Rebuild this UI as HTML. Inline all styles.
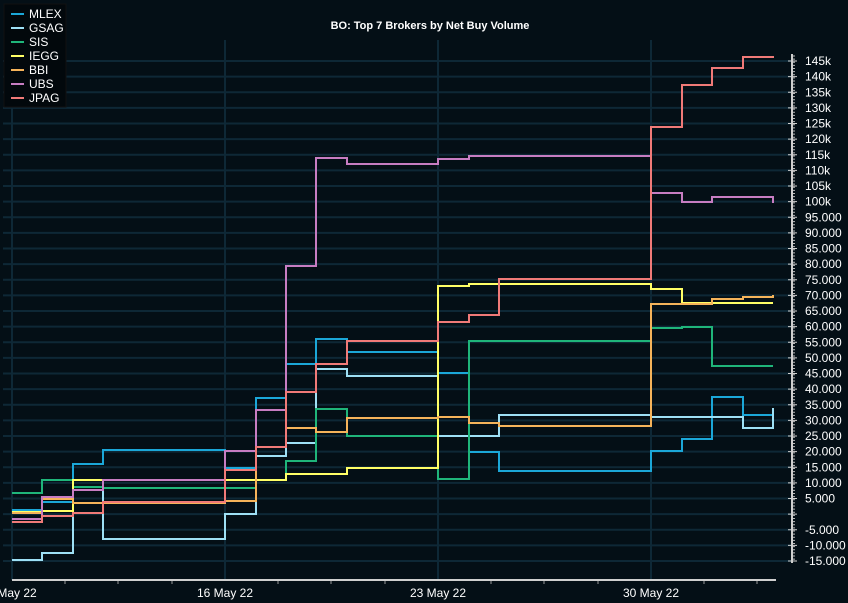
<!DOCTYPE html>
<html><head><meta charset="utf-8"><style>
html,body{margin:0;padding:0;background:#040f16;width:848px;height:603px;overflow:hidden}
svg{display:block;font-family:"Liberation Sans",sans-serif}
</style></head><body>
<svg id="c" width="848" height="603" xmlns="http://www.w3.org/2000/svg">
<rect width="848" height="603" fill="#040f16"/>
<g id="grid"></g>
<g id="series" fill="none" stroke-width="2"></g>
<text x="430" y="29" fill="#ffffff" font-size="11" font-weight="bold" text-anchor="middle">BO: Top 7 Brokers by Net Buy Volume</text>
<line x1="792" y1="54" x2="792" y2="563" stroke="#cfcfcf" stroke-width="2"/>
<g id="yl" fill="#ffffff" font-size="12"></g>
<line x1="12" y1="580" x2="776" y2="580" stroke="#cfcfcf" stroke-width="2"/>
<g fill="#ffffff" font-size="12" text-anchor="middle">
<text x="12" y="597">9 May 22</text>
<text x="225" y="597">16 May 22</text>
<text x="438" y="597">23 May 22</text>
<text x="651" y="597">30 May 22</text>
</g>
<g id="legend"></g>
</svg>
<script>
const NS="http://www.w3.org/2000/svg";
function el(t,a,p){const e=document.createElementNS(NS,t);for(const k in a)e.setAttribute(k,a[k]);p.appendChild(e);return e;}
const Y=v=>61+(145-v)*3.125;
const grid=document.getElementById('grid'),yl=document.getElementById('yl');
for(let v=-15;v<=145;v+=5){
  const y=Y(v);
  el('line',{x1:3,y1:y,x2:792,y2:y,stroke:'#0e2836','stroke-width':2},grid);
  el('line',{x1:788,y1:y,x2:797,y2:y,stroke:'#cfcfcf','stroke-width':1},grid);
  if(v!==0){const t=el('text',{x:805,y:y+4},yl);t.textContent=v>=100?v+'k':(v<0?'-':'')+Math.abs(v)+'.000';}
}
for(let y=56;y<562;y+=3.125) el('line',{x1:792,y1:y,x2:795,y2:y,stroke:'#bbbbbb','stroke-width':1},grid);
[12,225,438,651].forEach(x=>el('line',{x1:x,y1:40,x2:x,y2:580,stroke:'#0e2836','stroke-width':2},grid));
[65,118,172,278,331,385,491,544,598,704,757].forEach(x=>el('line',{x1:x,y1:580,x2:x,y2:584,stroke:'#999','stroke-width':1},grid));
const X=[12,42,73,103,225,256,286,316,347,438,469,499,651,682,712,743,773];
const S=[
 ['MLEX','#1ba7d8',[510,502,464,450,468,398,364,339,352,373,452,471,451,439,397,415],408],
 ['GSAG','#9ee0f5',[560,553,490,539,514,456,443,369,376,436,436,415,417,417,417,428],408],
 ['SIS','#1fb57a',[493,480,487,488,488,480,461,409,436,479,341,341,328,327,366,366],366],
 ['IEGG','#ffff66',[512,511,480,480,480,480,474,474,468,286,284,284,289,303,303,303],303],
 ['BBI','#f5b35a',[513,499,503,503,501,447,428,432,418,417,423,426,304,304,299,297],295],
 ['UBS','#c77dc2',[519,497,490,480,451,410,266,158,164,159,156,156,193,202,197,197],203],
 ['JPAG','#f07a78',[522,516,513,502,470,447,392,364,341,322,315,279,127,85,68,57],56]
];
const g=document.getElementById('series');
S.forEach(([n,c,ys,end])=>{
  let d='M'+X[0]+' '+ys[0];
  for(let i=0;i<X.length-1;i++){const y=ys[i];d+=' L'+X[i]+' '+y+' L'+X[i+1]+' '+y;}
  d+=' L773 '+end;
  el('path',{d:d,stroke:c},g);
});
const lg=document.getElementById('legend');
el('rect',{x:4,y:4,width:62,height:103,fill:'#02080c',stroke:'#111','stroke-width':1},lg);
S.forEach(([n,c],i)=>{const y=14+i*14;
 el('line',{x1:11,y1:y,x2:24,y2:y,stroke:c,'stroke-width':2},lg);
 const t=el('text',{x:29,y:y+4,fill:'#fff','font-size':12},lg);t.textContent=n;});
</script>
</body></html>
